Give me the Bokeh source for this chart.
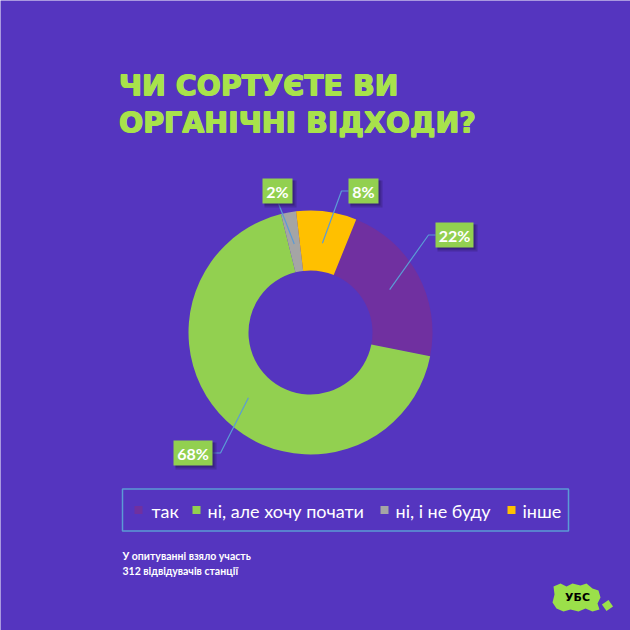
import numpy as np
from bokeh.plotting import figure
from bokeh.models import Range1d
from bokeh.embed import file_html
from bokeh.resources import INLINE
from bokeh.core.properties import value

# ---- data ----
categories = ["так", "ні, але хочу почати", "ні, і не буду", "інше"]
values = [22, 68, 2, 8]
labels = ["22%", "68%", "2%", "8%"]
colors = ["#7030A0", "#92D050", "#A5A5A5", "#FFC000"]
title_lines = ["ЧИ СОРТУЄТЕ ВИ", "ОРГАНІЧНІ ВІДХОДИ?"]
note_lines = ["У опитуванні взяло участь", "312 відвідувачів станції"]

BG = "#5535BF"
H = 630  # image coordinate system, y flipped


def Y(y):
    return H - y


p = figure(width=630, height=630, output_backend="svg", toolbar_location=None,
           x_range=Range1d(0, 630), y_range=Range1d(0, 630), min_border=0)
p.axis.visible = False
p.grid.visible = False
p.outline_line_color = None
p.background_fill_color = BG
p.border_fill_color = BG

# ---- donut ----
cx, cy = 310, 332
r_out, r_in = 122, 62
offset = 22.0  # first slice angle, degrees clockwise from top
vals = np.array(values, dtype=float)
frac = vals / vals.sum()
cum_end = np.cumsum(frac) * 360.0
cum_start = cum_end - frac * 360.0
start_cw = offset + cum_start
end_cw = offset + cum_end
start_math = np.radians(90 - start_cw)
end_math = np.radians(90 - end_cw)
p.annular_wedge(x=cx, y=Y(cy), inner_radius=r_in, outer_radius=r_out,
                start_angle=start_math, end_angle=end_math, direction="clock",
                fill_color=colors, line_color=None)

# ---- labels ----
mid_cw = np.radians(offset + (cum_start + cum_end) / 2)
r_anchor = 90
ax = cx + r_anchor * np.sin(mid_cw)
ay = cy - r_anchor * np.cos(mid_cw)

# box centre, width, and leader path points (image coords) per slice
boxes = [
    dict(c=(454, 234.5), w=38, path=[(435, 234.5), (428, 234.5)]),
    dict(c=(192.5, 452.5), w=39, path=[(212, 452.5), (220, 452.5)]),
    dict(c=(277, 190.5), w=30, path=[(278, 203)]),
    dict(c=(363, 190.5), w=30, path=[(348, 190.5), (341, 190.5)]),
]
lead_color = "#5B9BD5"
for i, b in enumerate(boxes):
    xs = [pt[0] for pt in b["path"]] + [ax[i]]
    ys = [Y(pt[1]) for pt in b["path"]] + [Y(ay[i])]
    p.line(xs, ys, line_color=lead_color, line_width=1.2)
for i, b in enumerate(boxes):
    bx, by = b["c"]
    p.rect(x=bx + 3, y=Y(by + 3), width=b["w"] + 2, height=27,
           fill_color="#2A165E", fill_alpha=0.3, line_color=None)
    p.rect(x=bx + 2, y=Y(by + 2), width=b["w"], height=25,
           fill_color="#2A165E", fill_alpha=0.45, line_color=None)
    p.rect(x=bx, y=Y(by), width=b["w"], height=25,
           fill_color="#92D050", line_color=None)
    p.text(x=bx, y=Y(by), text=[labels[i]], text_align="center",
           text_baseline="middle", text_color="white", text_font_style="bold",
           text_font=value("Lato"), text_font_size="16px")

# ---- title (drawn with small offsets to thicken strokes) ----
for j, line in enumerate(title_lines):
    for ddx, ddy in [(0, 0), (0.9, 0), (0, 0.7), (0.9, 0.7)]:
        p.text(x=118 + ddx, y=Y(85 + 37 * j + ddy), text=[line], text_align="left",
               text_baseline="alphabetic", text_color="#A8E24B",
               text_font=value("DejaVu Sans"), text_font_style="bold",
               text_font_size="28.5px")

# ---- legend ----
p.rect(x=(122 + 568) / 2, y=Y(509.5), width=446, height=42,
       fill_color=None, line_color="#5B9BD5", line_width=1.5)
sq_x = [138, 196, 384, 511]
tx_x = [151, 207, 395, 522]
for i, cat in enumerate(categories):
    p.rect(x=sq_x[i], y=Y(509.5), width=8, height=8,
           fill_color=colors[i], line_color=None)
    p.text(x=tx_x[i], y=Y(510), text=[cat], text_align="left",
           text_baseline="middle", text_color="white",
           text_font=value("Lato"), text_font_size="18px")

# ---- footnote ----
for j, line in enumerate(note_lines):
    p.text(x=122, y=Y(555 + 15 * j), text=[line], text_align="left",
           text_baseline="alphabetic", text_color="white",
           text_font=value("Lato"), text_font_style="bold",
           text_font_size="10.5px")

# ---- logo ----
blob_x = [553, 560, 566, 572, 580, 586, 592, 598, 600, 597, 599, 592, 585, 578, 570, 563, 556, 552, 554]
blob_y = [586, 583, 586, 583, 585, 583, 588, 590, 597, 603, 609, 611, 608, 611, 609, 611, 608, 602, 594]
p.patch([v for v in blob_x], [Y(v) for v in blob_y], fill_color="#9BE04A", line_color=None)
p.rect(x=607, y=Y(605), width=8, height=8, angle=np.radians(35),
       fill_color="#9BE04A", line_color=None)
p.text(x=577, y=Y(597), text=["УБС"], text_align="center", text_baseline="middle",
       text_color="black", text_font=value("DejaVu Sans"), text_font_style="bold",
       text_font_size="11px")

open("out.html", "w").write(file_html(p, INLINE))
